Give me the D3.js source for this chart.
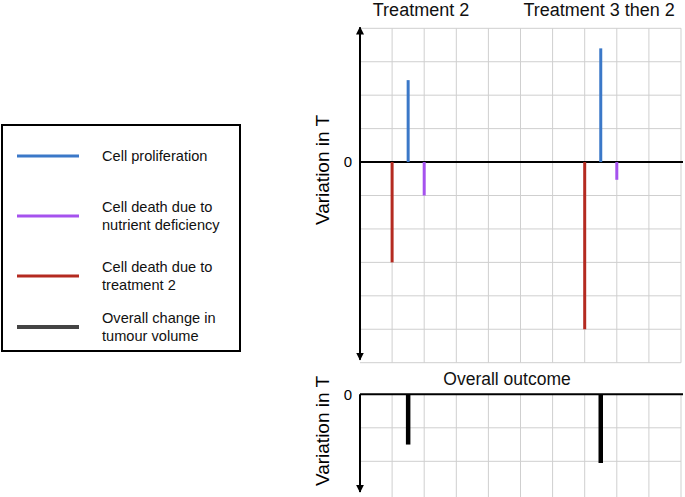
<!DOCTYPE html>
<html>
<head>
<meta charset="utf-8">
<script src="https://cdn.jsdelivr.net/npm/d3@7"></script>
<style>
  body { margin: 0; background: #fff; }
  svg { display: block; font-family: "Liberation Sans", Arial, Helvetica, sans-serif; }
</style>
</head>
<body>
<svg id="chart" width="685" height="497"></svg>
<script>
// data
const groups = ['Treatment 2', 'Treatment 3 then 2']
const groupX = [1, 7]               // grid column where each treatment starts
const titleX = [1.9, 7.45]          // where each title is centred, in grid units
const treatmentDeath = [-3, -5]     // red, at groupX
const proliferation = [2.45, 3.4]   // blue, at groupX + 0.5
const nutrientDeath = [-1, -0.53]   // purple, at groupX + 1
const overall = [-1.5, -2.05]       // black, at groupX + 0.5

const legendLabels = [
    ['Cell proliferation'],
    ['Cell death due to', 'nutrient deficiency'],
    ['Cell death due to', 'treatment 2'],
    ['Overall change in', 'tumour volume'],
]
const colors = {
    prolif: '#3b78c8',
    nutrient: '#a552ee',
    treat: '#b42a20',
    overall: '#000000',
    legendOverall: '#444444',
}

const svg = d3.select('#chart')

svg.append('defs').append('marker')
    .attr('id', 'arrow')
    .attr('viewBox', '0 0 10 10')
    .attr('refX', 9).attr('refY', 5)
    .attr('markerWidth', 4).attr('markerHeight', 4)
    .attr('orient', 'auto-start-reverse')
    .append('path')
    .attr('d', 'M0,0 L10,5 L0,10 z')
    .attr('fill', '#000')

const x = d3.scaleLinear().domain([0, 10]).range([360, 681])
const yTop = d3.scaleLinear().domain([4, -6]).range([28.3, 362.7])
const yBot = d3.scaleLinear().domain([0, -3]).range([394.3, 494.8])

const gridColor = '#cfcfcf'

// ---- top panel ----
const topG = svg.append('g')

topG.selectAll('.hgrid').data(d3.range(-6, 5))
    .join('line')
    .attr('x1', x(0)).attr('x2', x(10))
    .attr('y1', d => yTop(d)).attr('y2', d => yTop(d))
    .attr('stroke', gridColor).attr('stroke-width', 1)

topG.selectAll('.vgrid').data(d3.range(1, 11))
    .join('line')
    .attr('x1', d => x(d)).attr('x2', d => x(d))
    .attr('y1', yTop(4)).attr('y2', yTop(-6))
    .attr('stroke', gridColor).attr('stroke-width', 1)

// zero line
topG.append('line')
    .attr('x1', x(0)).attr('x2', x(10) + 2)
    .attr('y1', yTop(0)).attr('y2', yTop(0))
    .attr('stroke', '#000').attr('stroke-width', 2)

// y axis with arrows both ways
topG.append('line')
    .attr('x1', x(0)).attr('x2', x(0))
    .attr('y1', yTop(4) - 1).attr('y2', yTop(-6) - 3)
    .attr('stroke', '#000').attr('stroke-width', 2)
    .attr('marker-start', 'url(#arrow)')
    .attr('marker-end', 'url(#arrow)')

function bars(g, vals, off, color, y, w) {
    g.append('g').selectAll('line').data(vals)
        .join('line')
        .attr('x1', (d, i) => x(groupX[i] + off))
        .attr('x2', (d, i) => x(groupX[i] + off))
        .attr('y1', y(0)).attr('y2', d => y(d))
        .attr('stroke', color).attr('stroke-width', w)
}

bars(topG, treatmentDeath, 0, colors.treat, yTop, 3)
bars(topG, proliferation, 0.5, colors.prolif, yTop, 3)
bars(topG, nutrientDeath, 1, colors.nutrient, yTop, 3)

topG.selectAll('.title').data(groups)
    .join('text')
    .attr('x', (d, i) => x(titleX[i]))
    .attr('y', 10)
    .attr('dy', '0.35em')
    .attr('text-anchor', 'middle')
    .attr('font-size', '18px')
    .attr('fill', '#111')
    .text(d => d)

topG.append('text')
    .attr('x', 348).attr('y', yTop(0))
    .attr('dy', '0.35em').attr('text-anchor', 'middle')
    .attr('font-size', '15px')
    .text('0')

topG.append('text')
    .attr('transform', `translate(322, 170) rotate(-90)`)
    .attr('dy', '0.35em').attr('text-anchor', 'middle')
    .attr('font-size', '19px')
    .text('Variation in T')

// ---- bottom panel ----
const botG = svg.append('g')

botG.selectAll('.hgrid').data([-1, -2])
    .join('line')
    .attr('x1', x(0)).attr('x2', x(10))
    .attr('y1', d => yBot(d)).attr('y2', d => yBot(d))
    .attr('stroke', gridColor).attr('stroke-width', 1)

botG.selectAll('.vgrid').data(d3.range(1, 11))
    .join('line')
    .attr('x1', d => x(d)).attr('x2', d => x(d))
    .attr('y1', yBot(0)).attr('y2', 497)
    .attr('stroke', gridColor).attr('stroke-width', 1)

botG.append('line')
    .attr('x1', x(0)).attr('x2', x(10) + 2)
    .attr('y1', yBot(0)).attr('y2', yBot(0))
    .attr('stroke', '#000').attr('stroke-width', 2)

botG.append('line')
    .attr('x1', x(0)).attr('x2', x(0))
    .attr('y1', yBot(0)).attr('y2', 492)
    .attr('stroke', '#000').attr('stroke-width', 2)
    .attr('marker-end', 'url(#arrow)')

bars(botG, overall, 0.5, colors.overall, yBot, 4.5)

botG.append('text')
    .attr('x', 507).attr('y', 379)
    .attr('dy', '0.35em').attr('text-anchor', 'middle')
    .attr('font-size', '17.5px')
    .attr('fill', '#111')
    .text('Overall outcome')

botG.append('text')
    .attr('x', 348).attr('y', yBot(0))
    .attr('dy', '0.35em').attr('text-anchor', 'middle')
    .attr('font-size', '15px')
    .text('0')

botG.append('text')
    .attr('transform', `translate(322, 431) rotate(-90)`)
    .attr('dy', '0.35em').attr('text-anchor', 'middle')
    .attr('font-size', '19px')
    .text('Variation in T')

// ---- legend ----
const legend = svg.append('g')
legend.append('rect')
    .attr('x', 2).attr('y', 125)
    .attr('width', 238).attr('height', 226)
    .attr('fill', 'none').attr('stroke', '#000').attr('stroke-width', 2)

const legendY = [156, 216, 276, 327]
const legendColors = [colors.prolif, colors.nutrient, colors.treat, colors.legendOverall]
const legendW = [3, 3, 3, 4]

const items = legend.selectAll('.item').data(legendLabels)
    .join('g')
    .attr('transform', (d, i) => `translate(0, ${legendY[i]})`)

items.append('line')
    .attr('x1', 17).attr('x2', 79)
    .attr('stroke', (d, i) => legendColors[i])
    .attr('stroke-width', (d, i) => legendW[i])

items.append('text')
    .attr('x', 102)
    .attr('font-size', '14.6px')
    .attr('fill', '#111')
    .selectAll('tspan').data(d => d.map((t, j) => ({ t, j, n: d.length })))
    .join('tspan')
    .attr('x', 102)
    .attr('y', d => (d.j - (d.n - 1) / 2) * 18.5)
    .attr('dy', '0.35em')
    .text(d => d.t)
</script>
</body>
</html>
